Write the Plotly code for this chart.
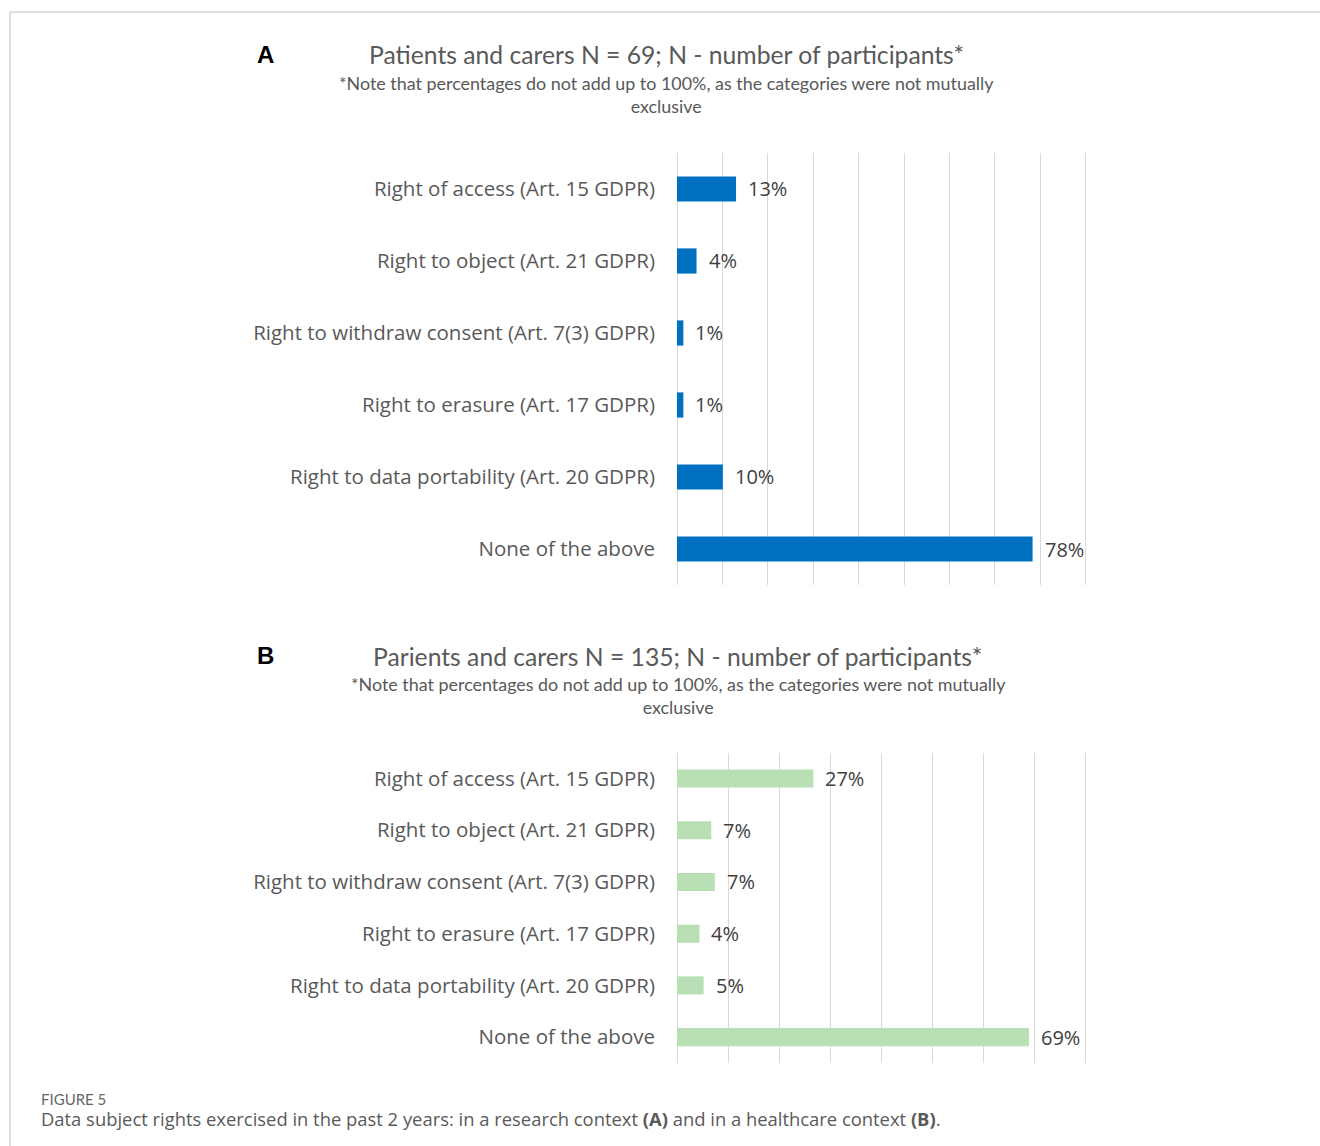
import plotly.graph_objects as go

categories = [
    "Right of access (Art. 15 GDPR)",
    "Right to object (Art. 21 GDPR)",
    "Right to withdraw consent (Art. 7(3) GDPR)",
    "Right to erasure (Art. 17 GDPR)",
    "Right to data portability (Art. 20 GDPR)",
    "None of the above",
]
values_a = [13.0, 4.3, 1.4, 1.4, 10.1, 78.3]
labels_a = ["13%", "4%", "1%", "1%", "10%", "78%"]
values_b = [26.7, 6.7, 7.4, 4.4, 5.2, 68.9]
labels_b = ["27%", "7%", "7%", "4%", "5%", "69%"]
ticks_a = [0, 10, 20, 30, 40, 50, 60, 70, 80, 90]
ticks_b = [0, 10, 20, 30, 40, 50, 60, 70, 80]

W, H = 1320, 1146
def px(x):
    return x / W
def py(y):
    return 1 - y / H

BLUE = "#0070C0"
GREEN = "#B9DFB5"
GRID = "#D9D9D9"
LABEL_FONT = "Open Sans"
TITLE_FONT = "Lato"

# axes extend a hair past the last gridline so that it is drawn
X0, X90 = 677, 1085.7
pad = 0.3
xa_max = 90 + pad
xb_max = 80 + pad
xa_right = X0 + (X90 - X0) * xa_max / 90
xb_right = X0 + (X90 - X0) * xb_max / 80

fig = go.Figure()
fig.add_trace(go.Bar(x=values_a, y=categories, orientation="h", marker=dict(color=BLUE, line=dict(width=0)),
                     width=0.35, xaxis="x", yaxis="y", hoverinfo="skip"))
fig.add_trace(go.Bar(x=values_b, y=categories, orientation="h", marker=dict(color=GREEN, line=dict(width=0)),
                     width=0.35, xaxis="x2", yaxis="y2", hoverinfo="skip"))

annotations = []
for v, lab, c in zip(values_a, labels_a, categories):
    annotations.append(dict(x=v, y=c, xref="x", yref="y", text=lab, showarrow=False, xanchor="left",
                            xshift=10, font=dict(family=LABEL_FONT, size=20, color="#404040")))
for v, lab, c in zip(values_b, labels_b, categories):
    annotations.append(dict(x=v, y=c, xref="x2", yref="y2", text=lab, showarrow=False, xanchor="left",
                            xshift=10, font=dict(family=LABEL_FONT, size=20, color="#404040")))

def txt(x, y, text, size, color, family, anchor="center"):
    annotations.append(dict(x=px(x), y=py(y), xref="paper", yref="paper", text=text, showarrow=False,
                            xanchor=anchor, yanchor="middle", align="center",
                            font=dict(family=family, size=size, color=color)))

txt(265, 55, "<b>A</b>", 24, "#000000", "Liberation Sans")
txt(666, 55, "Patients and carers N = 69; N - number of participants*", 24.7, "#595959", TITLE_FONT)
txt(667, 95, "*Note that percentages do not add up to 100%, as the categories were not mutually<br>exclusive",
    17.9, "#595959", TITLE_FONT)
txt(265, 655, "<b>B</b>", 24, "#000000", "Liberation Sans")
txt(677, 656, "Parients and carers N = 135; N - number of participants*", 24.7, "#595959", TITLE_FONT)
txt(678, 695, "*Note that percentages do not add up to 100%, as the categories were not mutually<br>exclusive",
    17.9, "#595959", TITLE_FONT)
txt(39, 1099, "FIGURE 5", 15, "#666666", "Lato", anchor="left")
txt(39, 1118, "Data subject rights exercised in the past 2 years: in a research context <b>(A)</b> and in a healthcare context <b>(B)</b>.",
    18.4, "#5a5a5a", "Open Sans", anchor="left")

shapes = [
    dict(type="line", xref="paper", yref="paper", x0=px(10), x1=1, y0=py(12), y1=py(12),
         line=dict(color="#D3D3D3", width=1.5)),
    dict(type="line", xref="paper", yref="paper", x0=px(10), x1=px(10), y0=py(12), y1=0,
         line=dict(color="#D3D3D3", width=1.5)),
]

xcommon = dict(showgrid=True, gridcolor=GRID, gridwidth=1, zeroline=True, zerolinecolor=GRID,
               zerolinewidth=1, showticklabels=False, showline=False, ticks="", fixedrange=True)
ycommon = dict(showgrid=False, zeroline=False, showline=False, ticks="",
               tickfont=dict(family=LABEL_FONT, size=20.5, color="#595959"), ticklabelstandoff=21,
               categoryorder="array", categoryarray=categories, range=[5.5, -0.5], fixedrange=True)

fig.update_layout(
    width=W, height=H,
    margin=dict(l=0, r=0, t=0, b=0),
    paper_bgcolor="white", plot_bgcolor="white",
    showlegend=False,
    xaxis=dict(domain=[px(X0), px(xa_right)], range=[0, xa_max], tickvals=ticks_a, anchor="y", **xcommon),
    yaxis=dict(domain=[py(585), py(153)], anchor="x", **ycommon),
    xaxis2=dict(domain=[px(X0), px(xb_right)], range=[0, xb_max], tickvals=ticks_b, anchor="y2", **xcommon),
    yaxis2=dict(domain=[py(1063), py(752.7)], anchor="x2", **ycommon),
    annotations=annotations,
    shapes=shapes,
)

fig.write_html("out.html", config={"displayModeBar": False},
               post_script="document.body.style.margin='0';")
